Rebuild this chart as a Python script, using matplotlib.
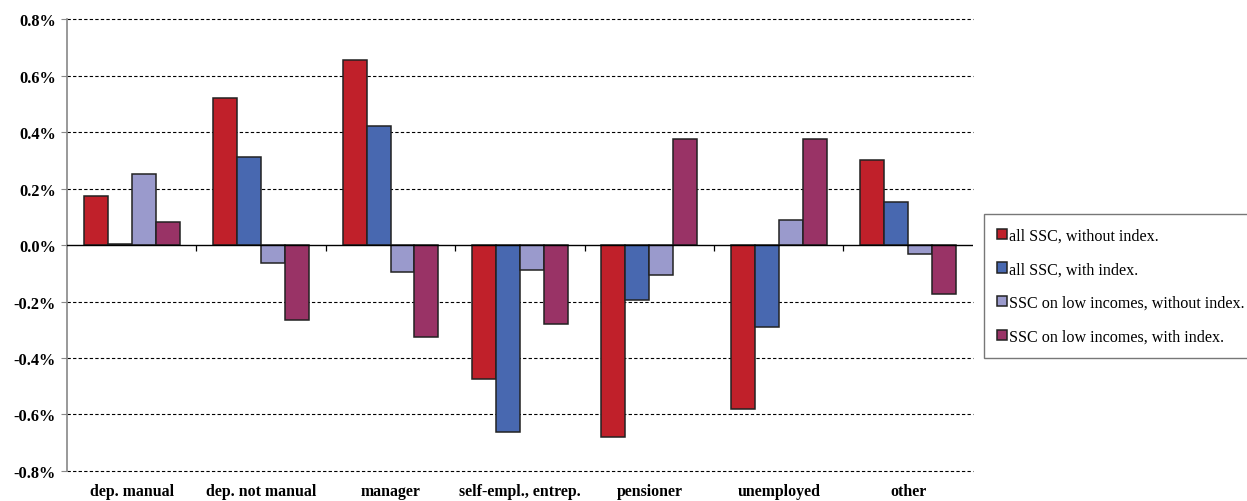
import matplotlib.pyplot as plt
import numpy as np

categories = ["dep. manual", "dep. not manual", "manager", "self-empl., entrep.",
              "pensioner", "unemployed", "other"]
series_names = ["all SSC, without index.", "all SSC, with index.",
                "SSC on low incomes, without index.", "SSC on low incomes, with index."]
all_wo = [0.173, 0.52, 0.655, -0.474, -0.68, -0.58, 0.30]
all_w = [0.005, 0.31, 0.42, -0.662, -0.195, -0.29, 0.152]
low_wo = [0.25, -0.064, -0.096, -0.088, -0.106, 0.088, -0.032]
low_w = [0.082, -0.265, -0.326, -0.28, 0.375, 0.375, -0.173]
yticks = [-0.8, -0.6, -0.4, -0.2, 0.0, 0.2, 0.4, 0.6, 0.8]

colors = ["#C0202A", "#4868B0", "#9A9ACC", "#993366"]
plt.rcParams['font.family'] = ['Liberation Serif', 'DejaVu Serif']

fig = plt.figure(figsize=(12.47, 5.02), dpi=100)
ax = fig.add_axes([0.0537, 0.0598, 0.7265, 0.9002])

x = np.arange(len(categories))
w = 0.185
data = [all_wo, all_w, low_wo, low_w]
for i, (vals, c, name) in enumerate(zip(data, colors, series_names)):
    ax.bar(x + (i - 1.5) * w, vals, w, color=c, edgecolor="#222222",
           linewidth=1.1, label=name, zorder=3)

ax.set_xlim(-0.5, len(categories) - 0.5)
ax.set_ylim(-0.8, 0.8)
ax.set_yticks(yticks)
ax.set_yticklabels([f"{v:.1f}%" for v in yticks], fontsize=11.8, fontweight="bold")
for v in yticks:
    if v != 0:
        ax.axhline(v, color="black", linestyle=(0, (3, 2)), linewidth=0.8,
                   zorder=1, clip_on=False)
ax.axhline(0, color="black", linewidth=1.0, zorder=4)
# category separator ticks on the zero line
ax.vlines(x[:-1] + 0.5, -0.022, 0, color="black", linewidth=0.9, zorder=4)

ax.set_xticks(x)
ax.set_xticklabels(categories, fontsize=11.4, fontweight="bold")
ax.tick_params(axis="x", length=0, pad=9)
ax.tick_params(axis="y", length=4, color="#888888", pad=4)
for s in ["top", "right", "bottom"]:
    ax.spines[s].set_visible(False)
ax.spines["left"].set_color("#888888")
ax.spines["left"].set_linewidth(1.2)

leg = fig.legend(loc="center left", bbox_to_anchor=(0.789, 0.428), fontsize=11.6,
                 handlelength=0.6, handleheight=0.6, handletextpad=0.12,
                 labelspacing=1.1, borderpad=0.82, borderaxespad=0, fancybox=False,
                 edgecolor="#777777", framealpha=1)
leg.get_frame().set_linewidth(1.0)

fig.savefig("out.png", dpi=100)
